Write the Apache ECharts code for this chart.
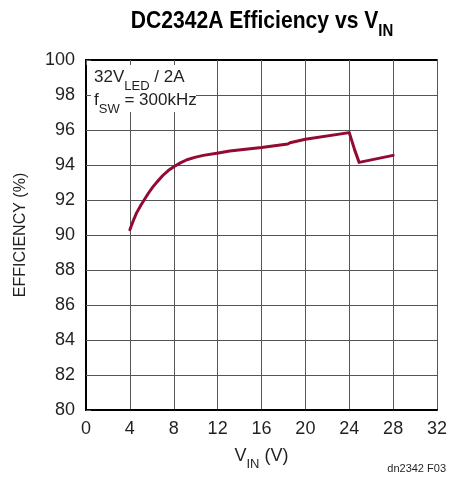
<!DOCTYPE html>
<html>
<head>
<meta charset="utf-8">
<script src="https://cdn.jsdelivr.net/npm/echarts@6/dist/echarts.min.js"></script>
<style>
  html, body { margin: 0; padding: 0; background: #fff; }
  #chart { width: 451px; height: 480px; }
</style>
</head>
<body>
<div id="chart"></div>
<script>
  // efficiency curve
  let vinValues = [4, 4.3, 4.6, 5.0, 5.3, 5.7, 6.1, 6.5, 7, 7.5, 8, 8.6, 9.2, 10, 10.7, 12.2, 13.1, 16, 18.4, 18.6, 20, 24, 24.5, 24.9, 28];
  let effValues = [90.3, 90.8, 91.25, 91.7, 92.0, 92.4, 92.75, 93.05, 93.4, 93.68, 93.9, 94.12, 94.3, 94.45, 94.55, 94.7, 94.8, 95.0, 95.2, 95.27, 95.47, 95.85, 94.85, 94.15, 94.55];
  let xTicks = [0, 4, 8, 12, 16, 20, 24, 28, 32];
  let yTicks = [80, 82, 84, 86, 88, 90, 92, 94, 96, 98, 100];

  let font = "'Liberation Sans Narrow', 'Liberation Sans', Arial, sans-serif";
  let textColor = '#231f20';
  let gridColor = '#555';

  let chart = echarts.init(document.getElementById('chart'));

  let points = [];
  for (let i = 0; i < vinValues.length; i++) {
    points.push([vinValues[i], effValues[i]]);
  }

  let overlayAxis = {
    axisLine: { show: true, lineStyle: { color: '#000', width: 2 } },
    axisLabel: { show: false },
    splitLine: { show: false },
    z: 10
  };

  let option = {
    animation: false,
    backgroundColor: '#fff',
    grid: { left: 86, right: 14, top: 60, bottom: 70 },
    xAxis: [
      {
        type: 'value',
        position: 'bottom',
        min: xTicks[0],
        max: xTicks[xTicks.length - 1],
        interval: 4,
        name: 'V{sub|IN} (V)',
        nameLocation: 'middle',
        nameGap: 37,
        nameTextStyle: {
          fontFamily: font, fontSize: 18, color: textColor,
          rich: { sub: { fontFamily: font, fontSize: 13, color: textColor, verticalAlign: 'bottom', padding: [0, 0, -6, 0] } }
        },
        axisLine: { show: true, lineStyle: { color: '#000', width: 2 } },
        axisTick: { show: false },
        axisLabel: { fontFamily: font, fontSize: 18, color: textColor, margin: 10 },
        splitLine: { show: true, lineStyle: { color: gridColor, width: 1 } }
      },
      Object.assign({
        type: 'value',
        position: 'top',
        min: 0, max: 32, interval: 4,
        axisTick: { show: true, inside: true, length: 5, lineStyle: { color: gridColor } }
      }, overlayAxis)
    ],
    yAxis: [
      {
        type: 'value',
        position: 'left',
        min: yTicks[0],
        max: yTicks[yTicks.length - 1],
        interval: 2,
        name: 'EFFICIENCY (%)',
        nameLocation: 'middle',
        nameRotate: 90,
        nameGap: 57,
        nameTextStyle: { fontFamily: font, fontSize: 16, color: textColor },
        axisLine: { show: true, lineStyle: { color: '#000', width: 2 } },
        axisTick: { show: false },
        axisLabel: { fontFamily: font, fontSize: 18, color: textColor, margin: 11 },
        splitLine: { show: true, lineStyle: { color: gridColor, width: 1 } }
      },
      Object.assign({
        type: 'value',
        position: 'right',
        min: 80, max: 100, interval: 2,
        axisTick: { show: false }
      }, overlayAxis),
      Object.assign({
        type: 'value',
        position: 'left',
        min: 80, max: 100, interval: 2,
        axisTick: { show: true, inside: true, length: 5, lineStyle: { color: gridColor } }
      }, overlayAxis)
    ],
    graphic: [
      {
        type: 'text',
        x: 262, y: 9,
        z: 20,
        scaleX: 0.88,
        style: {
          text: 'DC2342A Efficiency vs V{sub|IN}',
          font: 'bold 24px ' + font,
          fill: '#000',
          align: 'center',
          rich: { sub: { font: 'bold 17px ' + font, fill: '#000', verticalAlign: 'bottom', padding: [0, 0, -7, 0] } }
        }
      },
      {
        type: 'rect',
        z: 5,
        shape: { x: 87, y: 61, width: 109, height: 51 },
        style: { fill: '#fff' }
      },
      {
        type: 'text',
        x: 94, y: 66,
        z: 6,
        style: {
          text: '32V{sub|LED} / 2A\nf{sub|SW} = 300kHz',
          font: '17px ' + font,
          fill: textColor,
          lineHeight: 23,
          rich: { sub: { font: '13px ' + font, fill: textColor, verticalAlign: 'bottom', padding: [0, 0, -4, 0] } }
        }
      },
      {
        type: 'text',
        x: 446, y: 463,
        style: { text: 'dn2342 F03', font: '11px ' + font, fill: textColor, align: 'right' }
      }
    ],
    series: [
      {
        type: 'line',
        xAxisIndex: 0,
        yAxisIndex: 0,
        data: points,
        showSymbol: false,
        smooth: false,
        lineStyle: { color: '#930a33', width: 3, cap: 'round', join: 'round' },
        z: 20
      }
    ]
  };

  chart.setOption(option);
</script>
</body>
</html>
